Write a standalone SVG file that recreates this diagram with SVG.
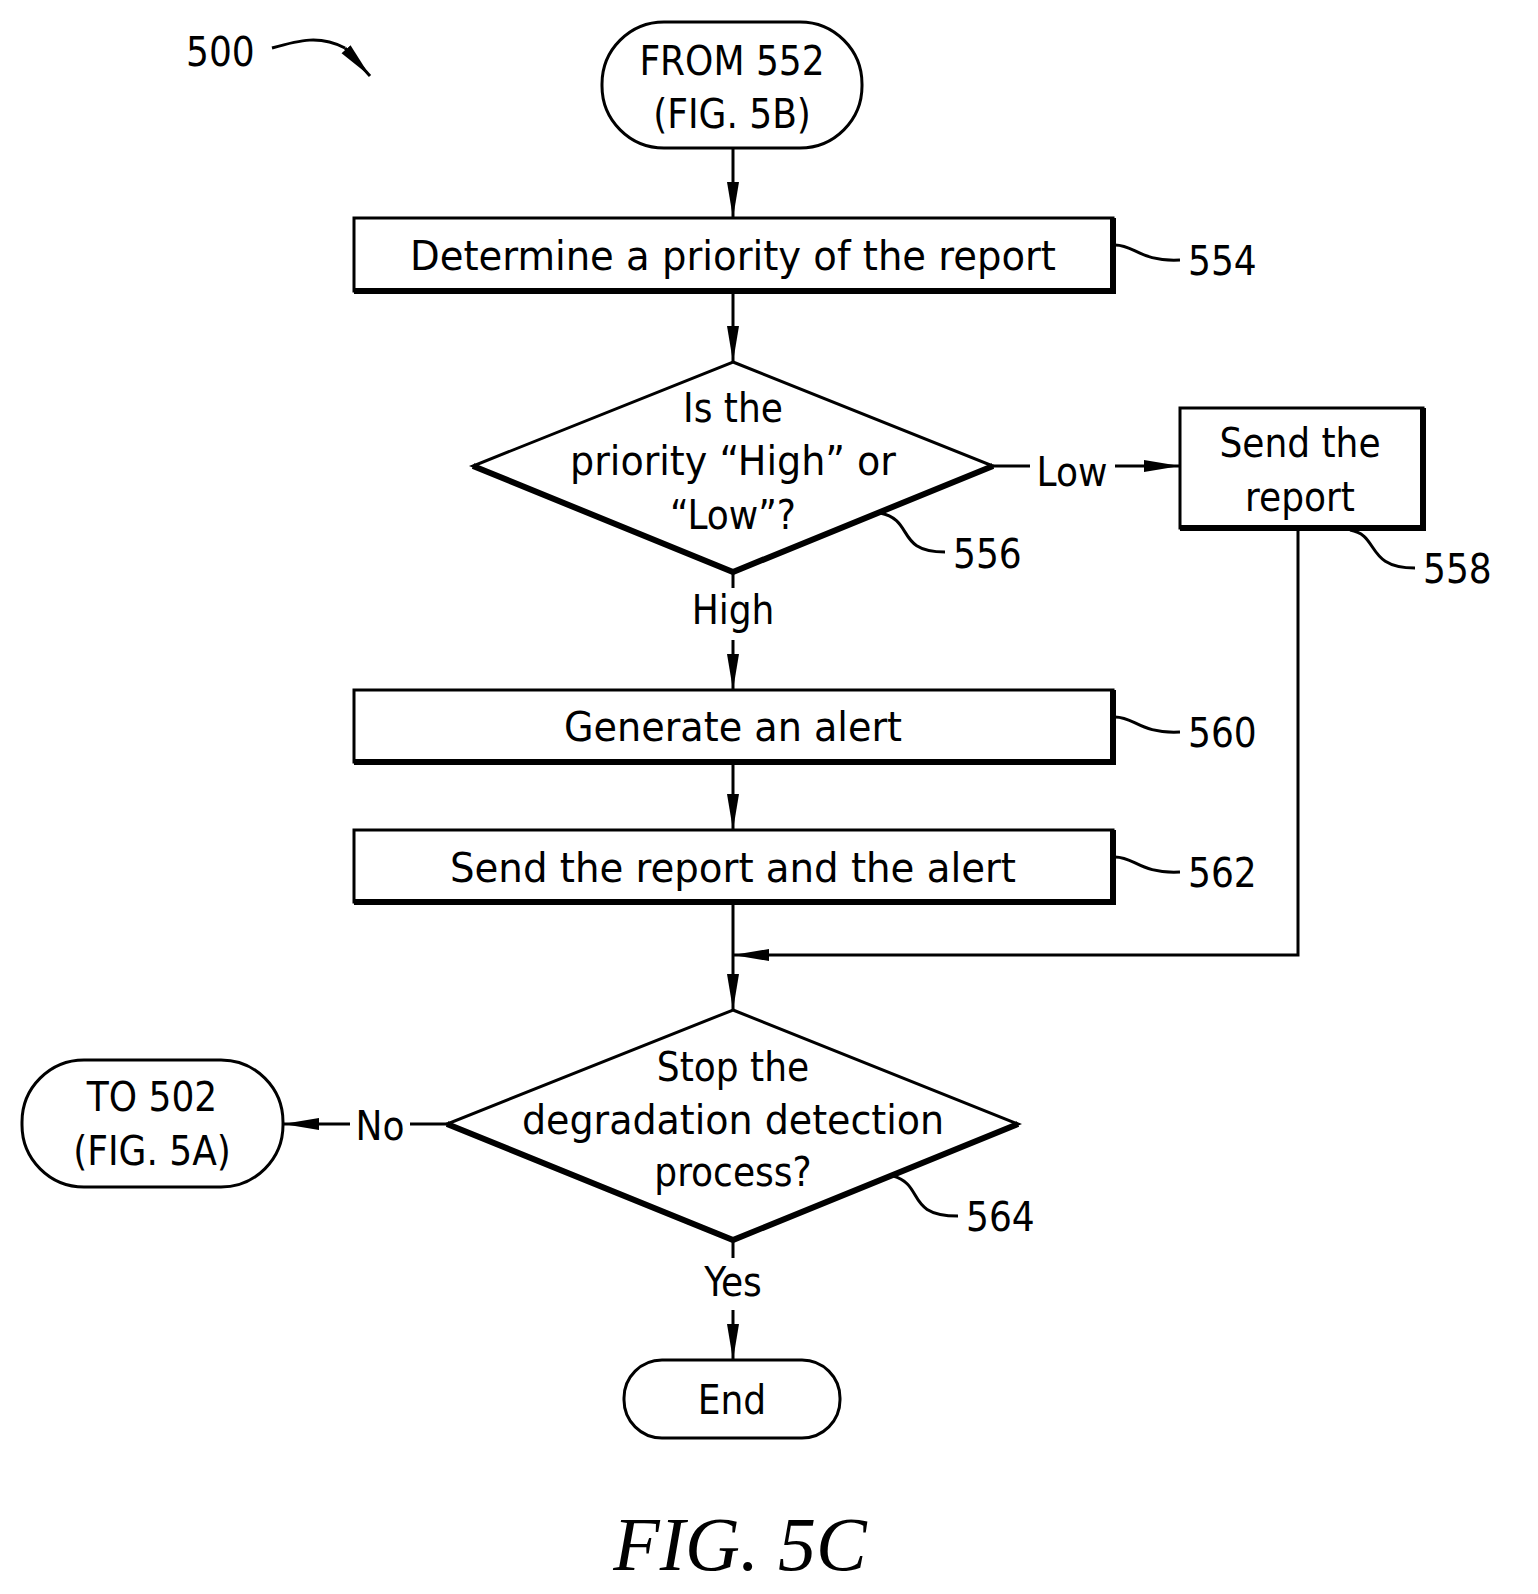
<svg xmlns="http://www.w3.org/2000/svg" width="1538" height="1594" viewBox="0 0 1538 1594">
<defs>
<marker id="ar" viewBox="0 0 36 16" refX="36" refY="8" markerWidth="36" markerHeight="16" markerUnits="userSpaceOnUse" orient="auto"><path d="M0,2 L36,8 L0,14 Z" fill="#000"/></marker>
<style>
.s{fill:#fff;stroke:#000;stroke-width:3}
.l{fill:none;stroke:#000;stroke-width:3}
.h{fill:none;stroke:#000;stroke-width:6}
.t{font-family:"DejaVu Sans Condensed","DejaVu Sans",sans-serif;font-size:40px;text-anchor:middle;fill:#000}
.n{font-family:"DejaVu Sans Condensed","DejaVu Sans",sans-serif;font-size:40px;fill:#000}
</style>
</defs>
<rect width="1538" height="1594" fill="#fff"/>
<g id="ref500"><text class="n" x="186" y="66">500</text><path class="l" d="M272,48 C300,40 320,35 345,48"/><path d="M345,48 L370,76" class="l" marker-end="url(#ar)"/></g>
<g id="connectors">
<line class="l" x1="733" y1="148" x2="733" y2="218" marker-end="url(#ar)"/>
<line class="l" x1="733" y1="291" x2="733" y2="362" marker-end="url(#ar)"/>
<line class="l" x1="993" y1="466" x2="1030" y2="466"/>
<line class="l" x1="1115" y1="466" x2="1180" y2="466" marker-end="url(#ar)"/>
<line class="l" x1="733" y1="572" x2="733" y2="588"/>
<line class="l" x1="733" y1="640" x2="733" y2="690" marker-end="url(#ar)"/>
<line class="l" x1="733" y1="762" x2="733" y2="830" marker-end="url(#ar)"/>
<line class="l" x1="733" y1="902" x2="733" y2="1010" marker-end="url(#ar)"/>
<polyline class="l" points="1298,528 1298,955 733,955" marker-end="url(#ar)"/>
<line class="l" x1="447" y1="1124" x2="410" y2="1124"/>
<line class="l" x1="350" y1="1124" x2="283" y2="1124" marker-end="url(#ar)"/>
<line class="l" x1="733" y1="1240" x2="733" y2="1258"/>
<line class="l" x1="733" y1="1310" x2="733" y2="1360" marker-end="url(#ar)"/>
<text class="t" x="1072" y="486">Low</text>
<text class="t" x="733" y="624">High</text>
<text class="t" x="380" y="1140">No</text>
<text class="t" x="733" y="1296">Yes</text>
</g>
<g id="start"><rect class="s" x="602" y="22" width="260" height="126" rx="62"/><text class="t" x="732" y="75">FROM 552</text><text class="t" x="732" y="128">(FIG. 5B)</text></g>
<g id="n554"><rect class="s" x="354" y="218" width="759" height="73"/><polyline class="h" points="1113,218 1113,291 354,291"/><text class="t" x="733" y="270" textLength="646" lengthAdjust="spacingAndGlyphs">Determine a priority of the report</text><path class="l" d="M1115,245 C1135,245 1140,262 1180,260"/><text class="n" x="1188" y="275">554</text></g>
<g id="n556"><polygon class="s" points="733,362 993,466 733,572 473,466"/><polyline class="h" points="993,466 733,572 473,466"/><text class="t" x="733" y="422">Is the</text><text class="t" x="733" y="475" textLength="326" lengthAdjust="spacingAndGlyphs">priority “High” or</text><text class="t" x="733" y="529">“Low”?</text><path class="l" d="M880,513 C915,520 895,552 945,552"/><text class="n" x="953" y="568">556</text></g>
<g id="n558"><rect class="s" x="1180" y="408" width="243" height="120"/><polyline class="h" points="1423,408 1423,528 1180,528"/><text class="t" x="1300" y="457">Send the</text><text class="t" x="1300" y="511">report</text><path class="l" d="M1350,530 C1380,535 1365,568 1415,568"/><text class="n" x="1423" y="583">558</text></g>
<g id="n560"><rect class="s" x="354" y="690" width="759" height="72"/><polyline class="h" points="1113,690 1113,762 354,762"/><text class="t" x="733" y="741" textLength="338" lengthAdjust="spacingAndGlyphs">Generate an alert</text><path class="l" d="M1115,717 C1135,717 1140,734 1180,732"/><text class="n" x="1188" y="747">560</text></g>
<g id="n562"><rect class="s" x="354" y="830" width="759" height="72"/><polyline class="h" points="1113,830 1113,902 354,902"/><text class="t" x="733" y="882" textLength="566" lengthAdjust="spacingAndGlyphs">Send the report and the alert</text><path class="l" d="M1115,857 C1135,857 1140,874 1180,872"/><text class="n" x="1188" y="887">562</text></g>
<g id="n564"><polygon class="s" points="733,1010 1018,1124 733,1240 447,1124"/><polyline class="h" points="1018,1124 733,1240 447,1124"/><text class="t" x="733" y="1081">Stop the</text><text class="t" x="733" y="1134" textLength="422" lengthAdjust="spacingAndGlyphs">degradation detection</text><text class="t" x="733" y="1186">process?</text><path class="l" d="M893,1176 C925,1185 905,1216 958,1216"/><text class="n" x="966" y="1231">564</text></g>
<g id="to502"><rect class="s" x="22" y="1060" width="261" height="127" rx="62"/><text class="t" x="152" y="1111">TO 502</text><text class="t" x="152" y="1165">(FIG. 5A)</text></g>
<g id="end"><rect class="s" x="624" y="1360" width="216" height="78" rx="38"/><text class="t" x="732" y="1414">End</text></g>
<text x="740" y="1570" font-family="Liberation Serif,serif" font-style="italic" font-size="76" text-anchor="middle">FIG. 5C</text>
</svg>
